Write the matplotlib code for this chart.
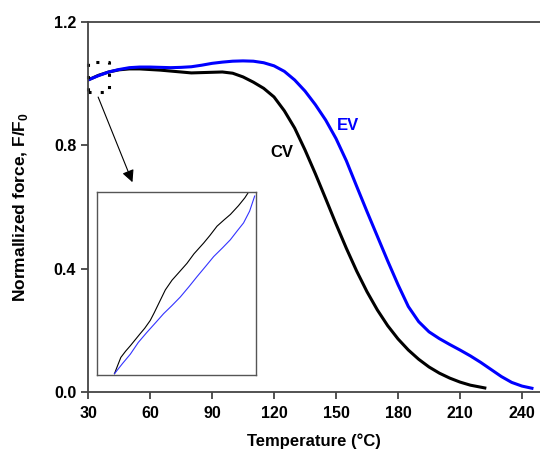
import matplotlib
matplotlib.use('Agg')
import matplotlib.pyplot as plt

plt.rcParams['font.family'] = ['Liberation Sans', 'DejaVu Sans']
plt.rcParams['font.weight'] = 'bold'
plt.rcParams['mathtext.fontset'] = 'custom'
plt.rcParams['mathtext.rm'] = 'Liberation Sans:bold'
plt.rcParams['mathtext.bf'] = 'Liberation Sans:bold'

# CV curve (black)
cv_temp = [30, 35, 40, 45, 50, 55, 60, 65, 70, 75, 80, 85, 90, 95, 100, 105, 110, 115,
           120, 125, 130, 135, 140, 145, 150, 155, 160, 165, 170, 175, 180, 185, 190,
           195, 200, 205, 210, 215, 222]
cv_force = [1.012, 1.027, 1.038, 1.045, 1.048, 1.048, 1.046, 1.044, 1.041, 1.038, 1.035,
            1.036, 1.037, 1.038, 1.034, 1.022, 1.005, 0.985, 0.957, 0.912, 0.856, 0.785,
            0.708, 0.627, 0.545, 0.466, 0.392, 0.325, 0.266, 0.215, 0.172, 0.136, 0.106,
            0.081, 0.061, 0.045, 0.032, 0.022, 0.013]

# EV curve (blue)
ev_temp = [30, 35, 40, 45, 50, 55, 60, 65, 70, 75, 80, 85, 90, 95, 100, 105, 110, 115,
           120, 125, 130, 135, 140, 145, 150, 155, 160, 165, 170, 175, 180, 185, 190,
           195, 200, 205, 210, 215, 220, 225, 230, 235, 240, 244.8]
ev_force = [1.012, 1.026, 1.038, 1.046, 1.052, 1.054, 1.054, 1.053, 1.052, 1.053, 1.055,
            1.060, 1.066, 1.070, 1.073, 1.074, 1.073, 1.068, 1.058, 1.040, 1.012, 0.976,
            0.932, 0.882, 0.822, 0.750, 0.667, 0.585, 0.505, 0.425, 0.348, 0.277, 0.228,
            0.195, 0.173, 0.154, 0.136, 0.117, 0.096, 0.073, 0.050, 0.031, 0.019, 0.012]

# inset: zoom of the start of both runs (raw data, 30-40 C)
in_cv_t = [31.1, 31.3, 31.5, 31.8, 32.1, 32.4, 32.7, 33.0, 33.35, 33.6, 33.98, 34.3,
           34.72, 35.1, 35.66, 36.1, 36.71, 37.1, 37.55, 38.0, 38.39, 38.9, 39.3, 39.54]
in_cv_f = [0.9707, 0.9752, 0.9796, 0.9830, 0.9860, 0.9892, 0.9924, 0.9955, 0.9998, 1.0040,
           1.0108, 1.0165, 1.0218, 1.0255, 1.0310, 1.0362, 1.0421, 1.0462, 1.0513, 1.0548,
           1.0577, 1.0625, 1.0668, 1.0700]
in_ev_t = [31.1, 31.6, 32.1, 32.6, 33.14, 33.7, 34.19, 34.7, 35.24, 35.8, 36.29, 36.8,
           37.34, 37.9, 38.39, 38.8, 39.22, 39.6, 39.92]
in_ev_f = [0.9707, 0.9762, 0.9814, 0.9878, 0.9933, 0.9987, 1.0035, 1.0078, 1.0126, 1.0184,
           1.0237, 1.0290, 1.0347, 1.0395, 1.0439, 1.0485, 1.0531, 1.0595, 1.0678]

fig = plt.figure(figsize=(5.4, 4.5), dpi=100)
ax = fig.add_axes([0.163, 0.129, 0.837, 0.822])

ax.plot(cv_temp, cv_force, color='black', lw=2.2, solid_joinstyle='round')
ax.plot(ev_temp, ev_force, color='#0000ff', lw=2.2, solid_joinstyle='round')

ax.set_xlim(30, 248.7)
ax.set_ylim(0, 1.2)
ax.set_xticks([30, 60, 90, 120, 150, 180, 210, 240])
ax.set_yticks([0.0, 0.4, 0.8, 1.2])
ax.set_yticklabels(['0.0', '0.4', '0.8', '1.2'])
ax.tick_params(direction='out', length=5, width=1.2, labelsize=11.5, colors='#333333',
               labelcolor='black')
ax.tick_params(axis='x', pad=5)
for lab in ax.get_xticklabels() + ax.get_yticklabels():
    lab.set_fontweight('bold')

ax.spines['right'].set_visible(False)
for s in ['left', 'bottom', 'top']:
    ax.spines[s].set_color('#444444')
    ax.spines[s].set_linewidth(1.3)

ax.set_xlabel('Temperature (°C)', fontsize=12, fontweight='bold', labelpad=9)
ax.set_ylabel('Normallized force, F/F$_0$', fontsize=12.5, fontweight='bold', labelpad=17)

ax.text(123.9, 0.778, 'CV', color='black', fontsize=12, fontweight='bold',
        ha='center', va='center')
ax.text(155.8, 0.866, 'EV', color='#0000ff', fontsize=12, fontweight='bold',
        ha='center', va='center')

# dotted box marking the zoomed region
ax.plot([30, 40, 40, 30, 30], [0.973, 0.973, 1.07, 1.07, 0.973], color='black',
        ls=(0, (1, 3)), lw=2.2, clip_on=False)
ax.annotate('', xy=(52, 0.672), xytext=(34.4, 0.965),
            arrowprops=dict(arrowstyle='-|>', color='black', lw=0.8,
                            mutation_scale=18))

ins = fig.add_axes([0.1796, 0.1667, 0.2944, 0.4067])
ins.plot(in_cv_t, in_cv_f, color='black', lw=0.8)
ins.plot(in_ev_t, in_ev_f, color='#3333ff', lw=0.8)
ins.set_xlim(30, 40)
ins.set_ylim(0.97, 1.07)
ins.set_xticks([])
ins.set_yticks([])
for s in ins.spines.values():
    s.set_color('#555555')
    s.set_linewidth(1.0)

plt.savefig('out.png', dpi=100)
